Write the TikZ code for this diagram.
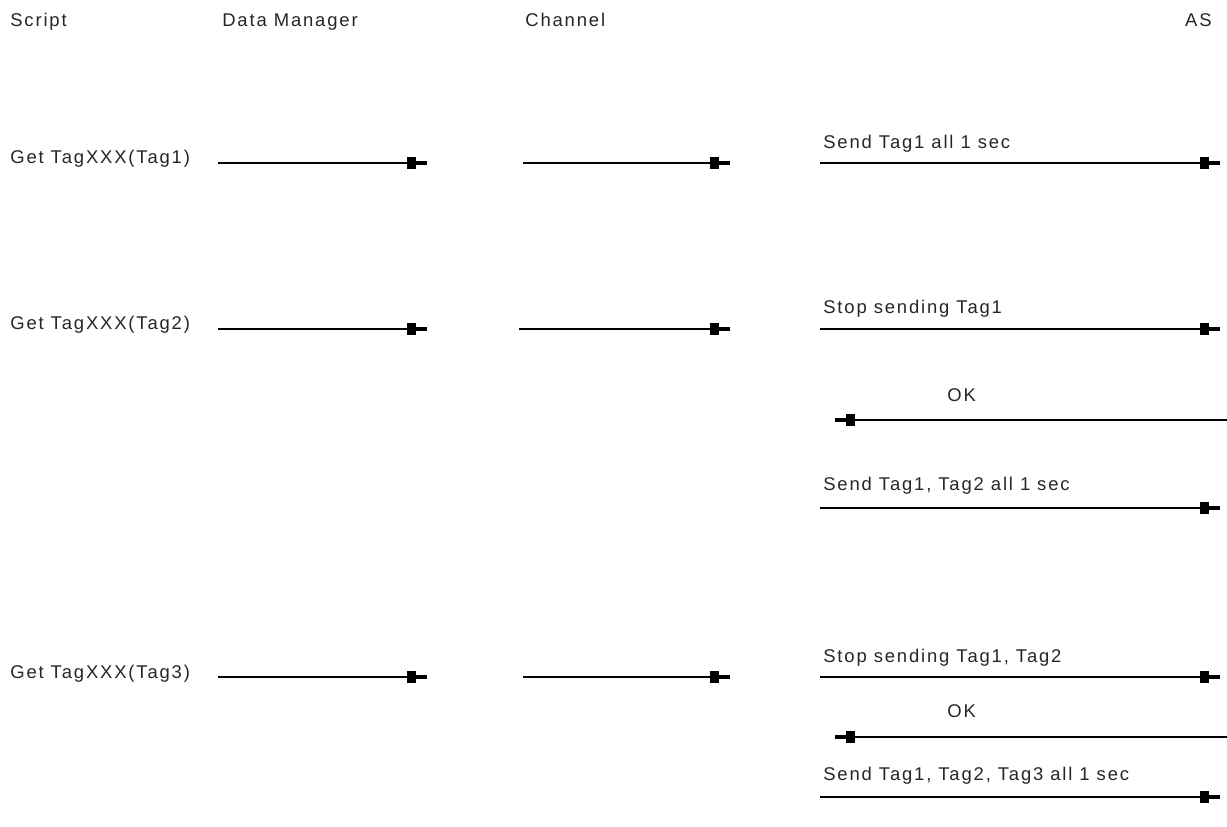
\documentclass[tikz,border=0pt]{standalone}
\usepackage{fontspec}
\setmainfont[LetterSpace=10]{Liberation Sans}
\usetikzlibrary{arrows.meta}
\begin{document}
\begin{tikzpicture}[
  x=0.02cm, y=-0.02cm,
  actor/.style={font=\fontsize{10.5}{12}\selectfont, text=black!85, inner sep=0pt, anchor=base west},
  call/.style={font=\fontsize{10.5}{12}\selectfont, text=black!85, inner sep=0pt, anchor=base west},
  note/.style={font=\fontsize{10.5}{12}\selectfont, text=black!85, inner sep=0pt, anchor=base west},
  msg/.style={line width=0.75pt, -{Rectangle[length=4.8pt,width=6.6pt]Rectangle[length=6.5pt,width=2.3pt]}},
]
  \useasboundingbox (0,0) rectangle (1227,827);

  % Lifeline headers
  \node[actor] (script) at (10,27) {Script};
  \node[actor] (dm) at (222,27) {Data Manager};
  \node[actor] (chan) at (525,27) {Channel};
  \node[actor, anchor=base east] (as) at (1212,27) {AS};

  % Script calls
  \node[call] (get1) at (10,164) {Get TagXXX(Tag1)};
  \node[call] (get2) at (10,330) {Get TagXXX(Tag2)};
  \node[call] (get3) at (10,678) {Get TagXXX(Tag3)};

  % Arrow end points
  \coordinate (a1) at (218,163); \coordinate (b1) at (427,163);
  \coordinate (c1) at (523,163); \coordinate (d1) at (730,163);
  \coordinate (e1) at (820,163); \coordinate (f1) at (1220,163);
  \coordinate (a2) at (218,329); \coordinate (b2) at (427,329);
  \coordinate (c2) at (519,329); \coordinate (d2) at (730,329);
  \coordinate (e2) at (820,329); \coordinate (f2) at (1220,329);
  \coordinate (ok1r) at (1227,420); \coordinate (ok1l) at (835,420);
  \coordinate (e4) at (820,508); \coordinate (f4) at (1220,508);
  \coordinate (a3) at (218,677); \coordinate (b3) at (427,677);
  \coordinate (c3) at (523,677); \coordinate (d3) at (730,677);
  \coordinate (e3) at (820,677); \coordinate (f3) at (1220,677);
  \coordinate (ok2r) at (1227,737); \coordinate (ok2l) at (835,737);
  \coordinate (e5) at (820,797); \coordinate (f5) at (1220,797);

  % Messages
  \draw[msg] (a1) -- (b1);
  \draw[msg] (c1) -- (d1);
  \draw[msg] (e1) -- (f1);
  \draw[msg] (a2) -- (b2);
  \draw[msg] (c2) -- (d2);
  \draw[msg] (e2) -- (f2);
  \draw[msg] (ok1r) -- (ok1l);
  \draw[msg] (e4) -- (f4);
  \draw[msg] (a3) -- (b3);
  \draw[msg] (c3) -- (d3);
  \draw[msg] (e3) -- (f3);
  \draw[msg] (ok2r) -- (ok2l);
  \draw[msg] (e5) -- (f5);

  % Message labels
  \node[note] (m1) at (823,149) {Send Tag1 all 1 sec};
  \node[note] (m2) at (823,314) {Stop sending Tag1};
  \node[note] (ok1) at (947,401) {OK};
  \node[note] (m4) at (823,490) {Send Tag1, Tag2 all 1 sec};
  \node[note] (m3) at (823,662) {Stop sending Tag1, Tag2};
  \node[note] (ok2) at (947,717) {OK};
  \node[note] (m5) at (823,780) {Send Tag1, Tag2, Tag3 all 1 sec};
\end{tikzpicture}
\end{document}
